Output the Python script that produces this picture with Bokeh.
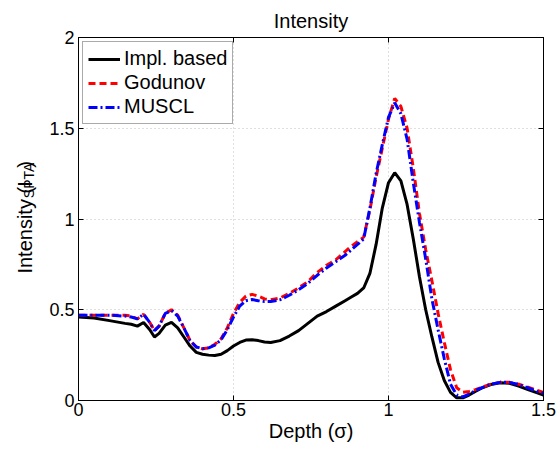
import math
from bokeh.plotting import figure
from bokeh.layouts import row
from bokeh.core.properties import value
from bokeh.models import Range1d, FixedTicker, LinearAxis, CustomJSTickFormatter
from bokeh.embed import file_html
from bokeh.resources import INLINE

# ---------------- data ----------------
x_ticks = [0, 0.5, 1, 1.5]
x_tick_labels = ["0", "0.5", "1", "1.5"]
y_ticks = [0, 0.5, 1, 1.5, 2]
y_tick_labels = ["0", "0.5", "1", "1.5", "2"]

depth = [0, 0.05, 0.10, 0.15, 0.17, 0.19, 0.21, 0.23, 0.245, 0.26, 0.28, 0.30, 0.32, 0.34,
         0.36, 0.38, 0.40, 0.42, 0.44, 0.46, 0.48, 0.50, 0.52, 0.54, 0.56, 0.58, 0.60, 0.62,
         0.65, 0.68, 0.71, 0.74, 0.77, 0.80, 0.83, 0.86, 0.88, 0.90, 0.92, 0.94, 0.96, 0.98,
         1.00, 1.02, 1.04, 1.06, 1.08, 1.10, 1.12, 1.14, 1.16, 1.18, 1.20, 1.22, 1.24, 1.26,
         1.28, 1.30, 1.33, 1.36, 1.39, 1.42, 1.45, 1.48, 1.50]

impl_based = [0.46, 0.455, 0.44, 0.425, 0.42, 0.41, 0.43, 0.39, 0.35, 0.37, 0.415, 0.43, 0.40, 0.35,
              0.30, 0.265, 0.255, 0.25, 0.248, 0.255, 0.275, 0.30, 0.32, 0.333, 0.335, 0.33, 0.322, 0.32,
              0.33, 0.355, 0.385, 0.425, 0.465, 0.49, 0.52, 0.55, 0.57, 0.59, 0.62, 0.70, 0.86, 1.06,
              1.20, 1.255, 1.21, 1.08, 0.89, 0.68, 0.50, 0.35, 0.21, 0.11, 0.045, 0.015, 0.015, 0.03,
              0.05, 0.068, 0.088, 0.098, 0.095, 0.08, 0.06, 0.042, 0.03]

godunov = [0.47, 0.47, 0.47, 0.47, 0.465, 0.45, 0.475, 0.43, 0.385, 0.41, 0.48, 0.50, 0.47, 0.40,
           0.33, 0.295, 0.285, 0.29, 0.31, 0.34, 0.40, 0.48, 0.54, 0.575, 0.585, 0.575, 0.56, 0.555,
           0.565, 0.59, 0.62, 0.655, 0.705, 0.745, 0.775, 0.82, 0.85, 0.875, 0.90, 1.05, 1.23, 1.39,
           1.55, 1.665, 1.62, 1.50, 1.28, 1.03, 0.83, 0.66, 0.48, 0.32, 0.17, 0.07, 0.045, 0.05,
           0.06, 0.072, 0.09, 0.10, 0.10, 0.09, 0.073, 0.055, 0.045]

muscl = [0.47, 0.47, 0.47, 0.465, 0.46, 0.45, 0.475, 0.43, 0.385, 0.41, 0.48, 0.495, 0.465, 0.40,
         0.33, 0.295, 0.285, 0.29, 0.305, 0.335, 0.39, 0.46, 0.52, 0.55, 0.556, 0.55, 0.545, 0.545,
         0.555, 0.58, 0.61, 0.645, 0.69, 0.73, 0.765, 0.80, 0.83, 0.86, 0.89, 1.06, 1.25, 1.41,
         1.56, 1.64, 1.58, 1.44, 1.20, 0.98, 0.78, 0.56, 0.39, 0.23, 0.09, 0.03, 0.02, 0.035,
         0.055, 0.07, 0.09, 0.10, 0.10, 0.088, 0.07, 0.05, 0.04]

FONT = "Liberation Sans"
W, H = 559, 449
LAB_W = 40

p = figure(width=W - LAB_W, height=H, output_backend="svg", toolbar_location=None,
           x_range=Range1d(0, 1.5), y_range=Range1d(0, 2),
           min_border_left=78 - LAB_W, min_border_right=16, min_border_top=37, min_border_bottom=49)
p.background_fill_color = "white"
p.border_fill_color = "white"
p.outline_line_color = "black"
p.outline_line_alpha = 1.0

p.title.text = "Intensity"
p.title.align = "center"
p.title.text_font = FONT
p.title.text_font_size = "20px"
p.title.text_font_style = "normal"
p.title.text_color = "black"
p.title.standoff = 12

for ax, ticks, labels in ((p.xaxis[0], x_ticks, x_tick_labels), (p.yaxis[0], y_ticks, y_tick_labels)):
    ax.ticker = FixedTicker(ticks=ticks)
    ax.major_label_overrides = {t: l for t, l in zip(ticks, labels)}
    ax.major_tick_in = 5
    ax.major_tick_out = 0
    ax.minor_tick_in = 0
    ax.minor_tick_out = 0
    ax.axis_line_color = "black"
    ax.major_tick_line_color = "black"
    ax.major_label_text_font = FONT
    ax.major_label_text_font_size = "18px"
    ax.major_label_text_color = "black"
p.xaxis.major_label_standoff = 2
p.yaxis.major_label_standoff = 4

p.xaxis.axis_label = "Depth (σ)"
p.xaxis.axis_label_text_font = FONT
p.xaxis.axis_label_text_font_size = "20px"
p.xaxis.axis_label_text_font_style = "normal"
p.xaxis.axis_label_text_color = "black"
p.xaxis.axis_label_standoff = 1

# ticks on right / top (box style)
blank = CustomJSTickFormatter(code="return ''")
for side, ticks in (("right", y_ticks), ("above", x_ticks)):
    ax = LinearAxis(ticker=FixedTicker(ticks=ticks), formatter=blank,
                    major_tick_in=5, major_tick_out=0, minor_tick_in=0, minor_tick_out=0,
                    major_label_standoff=0, major_label_text_font_size="1px",
                    axis_line_color="black", major_tick_line_color="black")
    p.add_layout(ax, side)

p.xgrid.ticker = FixedTicker(ticks=x_ticks)
p.ygrid.ticker = FixedTicker(ticks=y_ticks)
p.grid.grid_line_color = "#c0c0c0"
p.grid.grid_line_dash = "1 3"
p.grid.grid_line_width = 1

p.line(depth, impl_based, line_color="black", line_width=3, legend_label="Impl. based")
p.line(depth, godunov, line_color="#ff0000", line_width=3, line_dash="7 4", legend_label="Godunov")
p.line(depth, muscl, line_color="#0000ff", line_width=3, line_dash="9 3 2 3", legend_label="MUSCL")

lg = p.legend[0]
lg.location = "top_left"
lg.margin = 4
lg.padding = 5
lg.spacing = 1
lg.label_height = 22
lg.glyph_height = 22
lg.glyph_width = 32
lg.label_standoff = 4
lg.label_text_font = FONT
lg.label_text_font_size = "20px"
lg.label_text_color = "black"
lg.border_line_color = "#555555"
lg.border_line_width = 1
lg.background_fill_color = "white"
lg.background_fill_alpha = 1.0

# ---- y-axis label (with subscript) drawn as rotated text in a narrow strip to the left ----
ylab_main = "Intensity (I"
ylab_sub = "SPTA"
ylab_end = ")"
fs, fsub = 20, 14
w_main = 4.613 * fs
w_sub = 2.612 * fsub

lab = figure(width=LAB_W, height=H, output_backend="svg", toolbar_location=None, title=None,
             x_range=Range1d(0, LAB_W), y_range=Range1d(0, H),
             x_axis_type=None, y_axis_type=None, min_border=0)
lab.grid.visible = False
lab.outline_line_color = None
lab.background_fill_color = "white"
lab.border_fill_color = "white"

base_y = H - 292  # start of the label, measured from the bottom of the strip
parts = [
    (ylab_main, 24.0, base_y, fs),
    (ylab_sub, 28.5, base_y + w_main + 1, fsub),
    (ylab_end, 24.0, base_y + w_main + w_sub + 2, fs),
]
for txt, tx, ty, size in parts:
    lab.text(x=[tx], y=[ty], text=[txt], angle=math.pi / 2,
             text_font=value(FONT), text_font_size=value(f"{size}px"),
             text_baseline="alphabetic", text_align="left", text_color="black")

layout = row(lab, p, spacing=0)
open("out.html", "w").write(file_html(layout, INLINE))
